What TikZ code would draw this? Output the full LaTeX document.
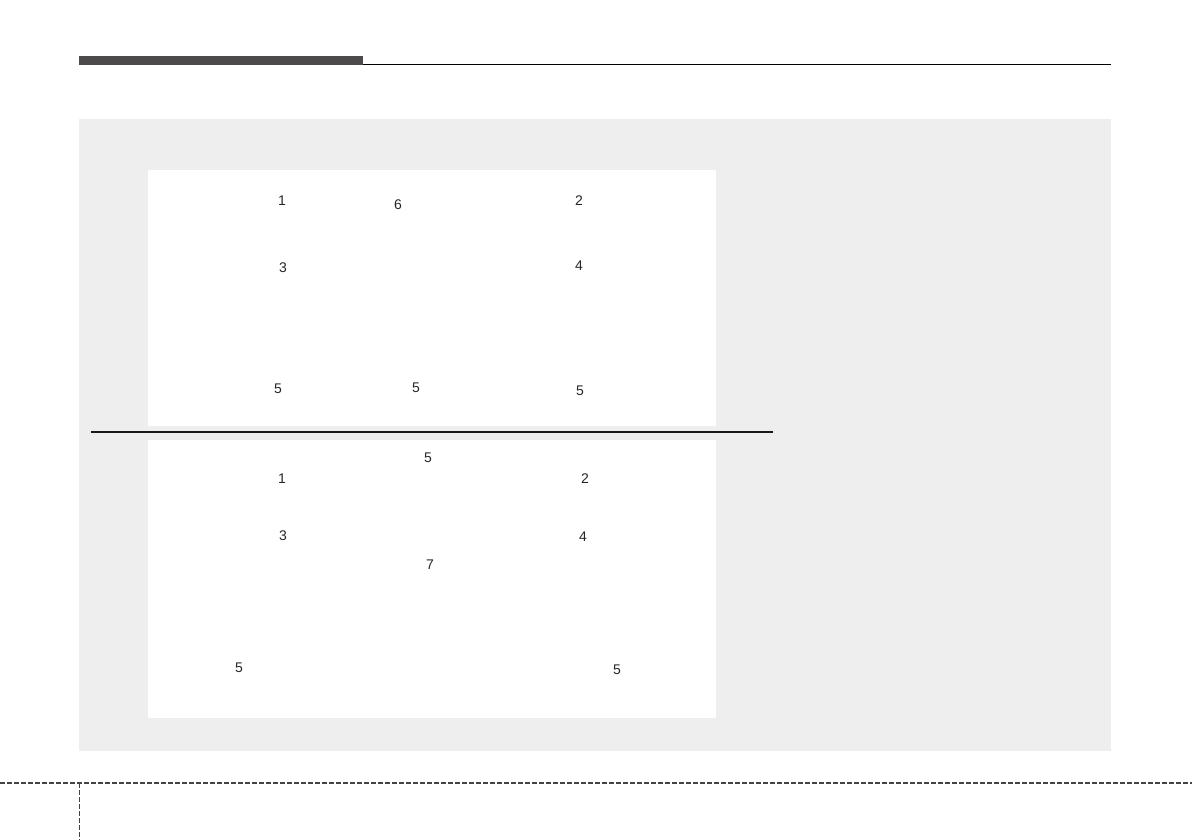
\documentclass[tikz,border=0pt]{standalone}
\usepackage{fontspec}
\setmainfont{Liberation Sans}
\usepackage{xcolor}
\usetikzlibrary{positioning}
\definecolor{panelgray}{HTML}{EEEEEE}
\definecolor{bardark}{HTML}{4D4A4B}
\definecolor{footgray}{HTML}{444444}
\tikzset{num/.style={inner sep=0pt,text=black!85,font=\fontsize{14}{14}\selectfont}}

\begin{document}
\begin{tikzpicture}[x=1pt,y=-1pt]
\useasboundingbox (0,0) rectangle (1192,840);
% header
\fill [bardark] (79,56) rectangle (363,65);
\draw [black,line width=1pt] (363,64.5)--(1111,64.5);
% gray field and white panels
\fill [panelgray] (79,119) rectangle (1111,751);
\fill [white] (148,170) rectangle (716,426);
\fill [white] (148,440) rectangle (716,718);
\draw [black!90,line width=2pt] (91,432)--(773,432);

% top panel labels
\node[num] (t1) at (282,201) {1};
\node[num] (t6) at (398,205) {6};
\node[num] (t2) at (579,201) {2};
\node[num] (t3) at (283,268) {3};
\node[num] (t4) at (579,266) {4};
\node[num] (t5a) at (278,389) {5};
\node[num] (t5b) at (416,388) {5};
\node[num] (t5c) at (580,391) {5};

% bottom panel labels
\node[num] (b5a) at (428,458) {5};
\node[num] (b1) at (282,479) {1};
\node[num] (b2) at (585,479) {2};
\node[num] (b3) at (283,536) {3};
\node[num] (b4) at (583,537) {4};
\node[num] (b7) at (430,565) {7};
\node[num] (b5b) at (239,668) {5};
\node[num] (b5c) at (617,670) {5};

% footer
\draw [footgray,line width=1.3pt,dash pattern=on 4.5pt off 2.5pt] (0,783)--(1192,783);
\draw [footgray,line width=1.3pt,dash pattern=on 4.5pt off 2.5pt] (79.5,783)--(79.5,840);
\end{tikzpicture}
\end{document}
